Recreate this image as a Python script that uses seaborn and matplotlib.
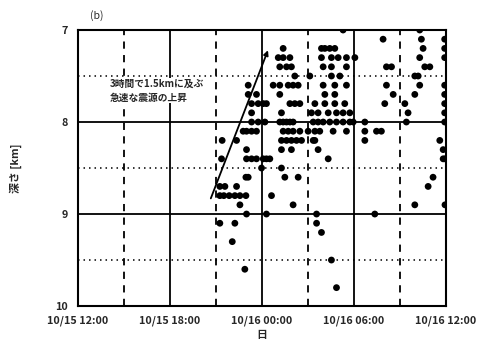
import pandas as pd
import numpy as np
import matplotlib
matplotlib.use("Agg")
import matplotlib.pyplot as plt
import seaborn as sns

# hours after 10/15 12:00 and hypocentre depth [km]
hours = [
    9.26, 9.52, 9.87, 10.24, 10.57, 10.96, 9.26, 9.59, 9.37, 9.41,
    10.57, 11.0, 9.26, 10.24, 10.07, 10.89, 10.35,
    11.0, 11.0, 11.33, 11.65, 10.96, 11.11, 10.35,
    11.11, 11.11, 11.65, 11.33, 11.76, 11.33, 11.33, 11.76,
    10.78, 11.0, 11.33, 11.65, 12.09, 12.3,
    12.09, 12.3, 12.52, 11.98, 12.63, 12.3, 12.2,
    13.39, 13.07, 13.39, 13.83, 13.17, 13.61, 13.93, 14.15,
    12.74, 13.17, 13.72, 14.04, 14.37, 13.17, 13.83, 14.15, 14.48, 13.28,
    13.17, 13.39, 13.61, 13.83, 14.04, 13.39, 13.72, 14.04, 14.48,
    13.28, 13.61, 13.93, 14.26, 14.59, 13.28, 13.93, 13.28, 13.5, 14.37, 14.04,
    15.13, 15.02, 15.35, 15.46, 15.67, 16.33, 15.57, 15.57, 15.89, 16.54, 16.87,
    15.89, 16.11, 16.43, 16.76, 15.89, 16.54, 16.98, 16.0, 16.54, 17.52,
    16.54, 17.09, 16.0, 16.76, 17.52, 16.11, 16.76, 15.46, 16.11, 16.76, 17.41,
    15.24, 15.67, 16.33, 16.87, 17.3, 17.74,
    15.35, 15.67, 16.0, 16.43, 16.87, 17.3, 17.74, 17.96,
    15.46, 15.78, 16.65, 17.52, 17.3, 17.52, 18.07,
    18.72, 18.72, 18.72, 19.48, 19.8, 19.91, 20.13, 20.46, 20.13, 20.57, 20.02, 19.37,
    22.3, 22.41, 22.52, 22.3, 22.63, 22.96, 21.98, 22.2, 22.3, 21.98,
    21.33, 21.54, 21.43, 21.98, 22.85, 23.17, 23.61, 23.83, 23.83, 23.95, 23.95,
    23.93, 23.93, 23.93, 23.93, 23.93, 23.93, 23.93, 23.93,
]
depth = [
    8.8, 8.8, 8.8, 8.8, 8.8, 8.8, 8.7, 8.7, 8.4, 8.2,
    8.9, 9.0, 9.1, 9.1, 9.3, 9.6, 8.2,
    8.3, 8.4, 8.4, 8.4, 8.6, 8.6, 8.7,
    7.6, 7.7, 7.7, 7.8, 7.8, 7.9, 8.0, 8.0,
    8.1, 8.1, 8.1, 8.1, 7.8, 7.8,
    8.4, 8.4, 8.4, 8.5, 8.8, 9.0, 8.0,
    7.2, 7.3, 7.3, 7.3, 7.4, 7.4, 7.4, 7.5,
    7.6, 7.6, 7.6, 7.6, 7.6, 7.7, 7.8, 7.8, 7.8, 7.9,
    8.0, 8.0, 8.0, 8.0, 8.0, 8.1, 8.1, 8.1, 8.1,
    8.2, 8.2, 8.2, 8.2, 8.2, 8.3, 8.3, 8.5, 8.6, 8.6, 8.9,
    7.5, 8.1, 8.2, 8.2, 8.3, 8.4, 9.0, 9.1, 9.2, 9.5, 9.8,
    7.2, 7.2, 7.2, 7.2, 7.3, 7.3, 7.3, 7.4, 7.4, 7.4,
    7.5, 7.5, 7.6, 7.6, 7.6, 7.7, 7.7, 7.8, 7.8, 7.8, 7.8,
    7.9, 7.9, 7.9, 7.9, 7.9, 7.9,
    8.0, 8.0, 8.0, 8.0, 8.0, 8.0, 8.0, 8.0,
    8.1, 8.1, 8.1, 8.1, 7.0, 7.3, 7.3,
    8.0, 8.1, 8.2, 8.1, 8.1, 7.1, 7.4, 7.4, 7.6, 7.7, 7.8, 9.0,
    7.0, 7.1, 7.2, 7.3, 7.4, 7.4, 7.5, 7.5, 7.6, 7.7,
    7.8, 7.9, 8.0, 8.9, 8.7, 8.6, 8.2, 8.3, 8.4, 8.4, 8.9,
    7.1, 7.2, 7.3, 7.6, 7.7, 7.8, 7.9, 8.0,
]

start = pd.Timestamp("2000-10-15 12:00")
df = pd.DataFrame({
    "time": start + pd.to_timedelta(hours, unit="h"),
    "depth": depth,
})

jp = ["Noto Sans CJK JP", "DejaVu Sans"]

sns.set_style("white")
plt.rcParams["font.family"] = jp

fig = plt.figure(figsize=(4.84, 3.53), dpi=100)
ax = fig.add_axes([0.161, 0.133, 0.76, 0.782])

# grid: solid every 6 h, dashed in between; solid at whole km, dotted at half km
for h in [6, 12, 18]:
    ax.axvline(start + pd.Timedelta(hours=h), color="black", lw=1.3, zorder=1)
for h in [3, 9, 15, 21]:
    ax.axvline(start + pd.Timedelta(hours=h), color="black", lw=1.3,
               dashes=(4, 3.5), zorder=1)
for d in [8, 9]:
    ax.axhline(d, color="black", lw=1.3, zorder=1)
for d in [7.5, 8.5, 9.5]:
    ax.axhline(d, color="black", lw=1.1, dashes=(1, 2.6), zorder=1)

sns.scatterplot(data=df, x="time", y="depth", ax=ax, color="black",
                s=24, edgecolor="none", zorder=3)

ax.set_xlim(start, start + pd.Timedelta(hours=24))
ax.set_ylim(10, 7)
ticks = [start + pd.Timedelta(hours=h) for h in [0, 6, 12, 18, 24]]
ax.set_xticks(ticks)
ax.set_xticklabels(["10/15 12:00", "10/15 18:00", "10/16 00:00",
                    "10/16 06:00", "10/16 12:00"], fontsize=7.8, fontweight="bold")
ax.set_yticks([7, 8, 9, 10])
ax.set_yticklabels(["7", "8", "9", "10"], fontsize=7.8, fontweight="bold")
ax.tick_params(length=0, pad=7)
ax.set_xlabel("日", fontsize=7.8, fontweight="bold", labelpad=3)
ax.set_ylabel("深さ [km]", fontsize=7.8, fontweight="bold", labelpad=24)
for s in ax.spines.values():
    s.set_color("black")
    s.set_linewidth(1.5)

# arrow showing the rapid rise of the hypocentre
ax.annotate("", xy=(start + pd.Timedelta(hours=12.4), 7.22),
            xytext=(start + pd.Timedelta(hours=8.67), 8.83),
            arrowprops=dict(arrowstyle="-|>", color="black", lw=1.3,
                            mutation_scale=7, shrinkA=0, shrinkB=0), zorder=4)
ax.text(start + pd.Timedelta(hours=2.1), 7.66,
        "3時間で1.5kmに及ぶ\n急速な震源の上昇", fontsize=7, fontweight="bold",
        ha="left", va="center", linespacing=1.45, zorder=4,
        bbox=dict(facecolor="white", edgecolor="none", pad=0.5))

fig.text(0.2, 0.955, "(b)", fontsize=7.5, ha="center", va="center")

fig.savefig("out.png", dpi=100)
